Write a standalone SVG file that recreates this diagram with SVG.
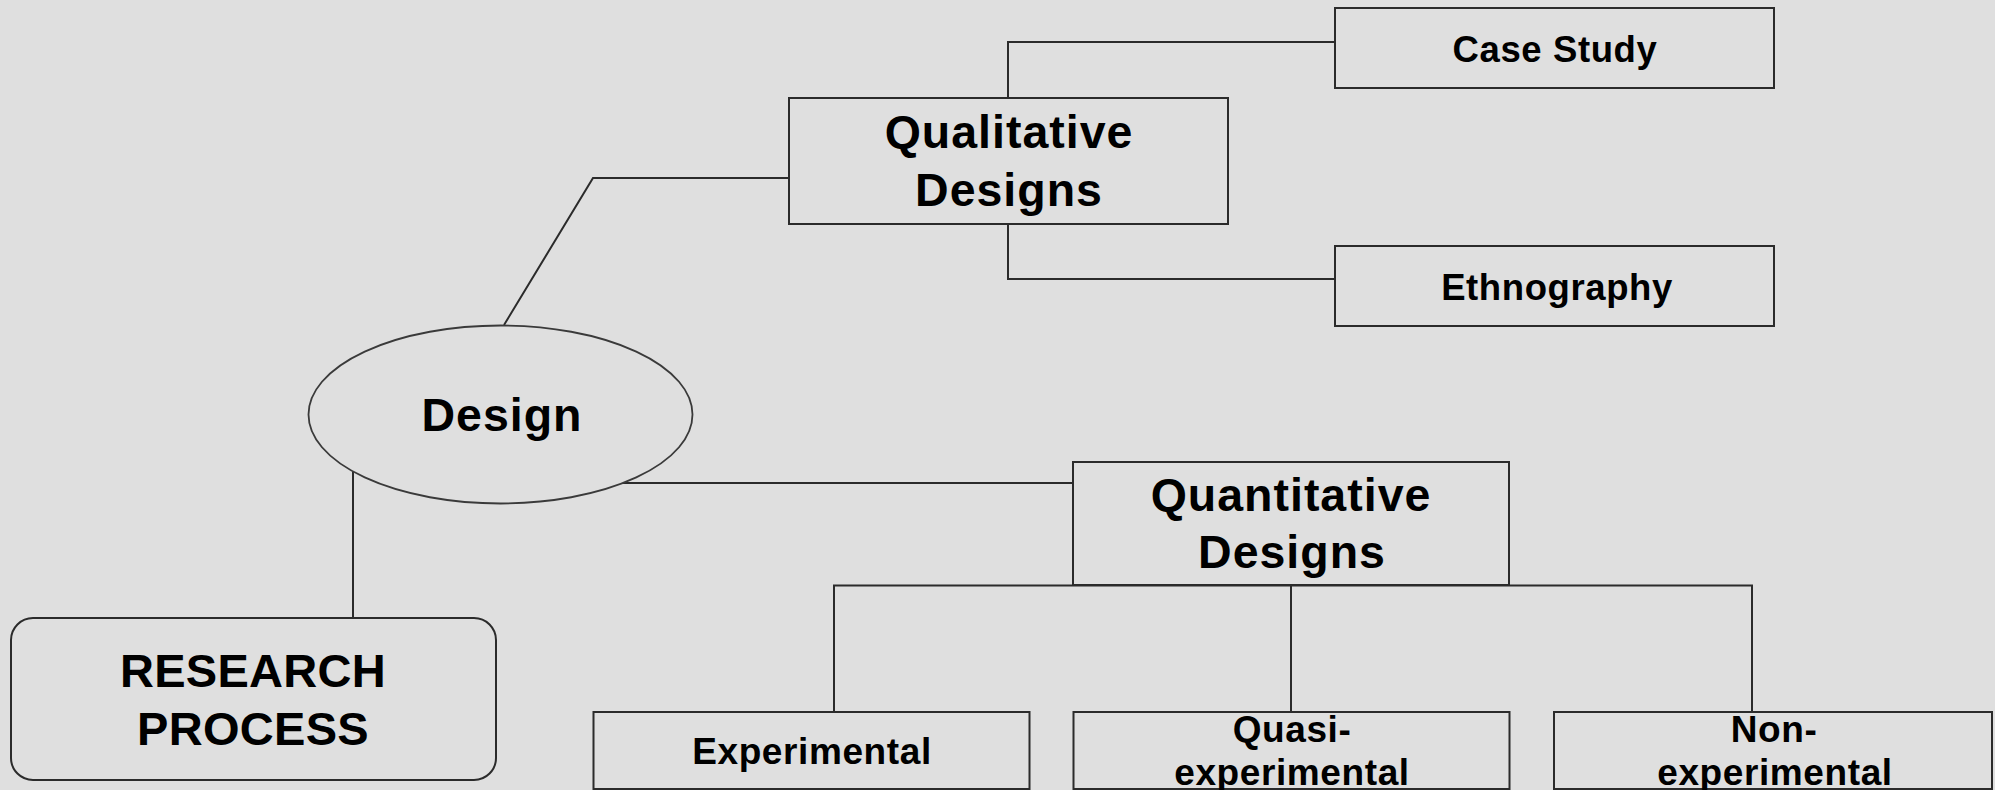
<svg xmlns="http://www.w3.org/2000/svg" width="1995" height="790" viewBox="0 0 1995 790">
  <style>
    .bg { fill: #dfdfdf; }
    .box { fill: #dfdfdf; stroke: #2b2b2b; stroke-width: 2; }
    .oval { fill: #dfdfdf; stroke: #3a3a3a; stroke-width: 1.8; }
    .wire { fill: none; stroke: #2b2b2b; stroke-width: 2; }
    text { font-family: "Liberation Sans", Arial, sans-serif; font-weight: bold; fill: #000; text-anchor: middle; }
    .big { font-size: 46.5px; letter-spacing: 1px; }
    .small { font-size: 37px; letter-spacing: 0.6px; }
  </style>

  <rect class="bg" x="0" y="0" width="1995" height="790"/>

  <!-- connectors -->
  <g id="connectors">
    <polyline class="wire" points="504,325 593,178 789,178"/>
    <polyline class="wire" points="1008,98 1008,42 1335,42"/>
    <polyline class="wire" points="1008,224 1008,279 1335,279"/>
    <line class="wire" x1="623" y1="483" x2="1073" y2="483"/>
    <line class="wire" x1="353" y1="471" x2="353" y2="618"/>
    <line class="wire" x1="1291" y1="585" x2="1291" y2="712"/>
    <polyline class="wire" points="834,712 834,585.5 1752,585.5 1752,712"/>
  </g>

  <g id="research-process">
    <rect class="box" x="11" y="618" width="485" height="162" rx="22" ry="22"/>
    <text class="big" x="253" y="687" style="font-size:47px;letter-spacing:0.3px">RESEARCH</text>
    <text class="big" x="253" y="745" style="font-size:47px;letter-spacing:0.3px">PROCESS</text>
  </g>

  <g id="design">
    <ellipse class="oval" cx="500.5" cy="414.5" rx="192" ry="89"/>
    <text class="big" x="502" y="431">Design</text>
  </g>

  <g id="qualitative">
    <rect class="box" x="789" y="98" width="439" height="126"/>
    <text class="big" x="1009" y="148">Qualitative</text>
    <text class="big" x="1009" y="206">Designs</text>
  </g>

  <g id="case-study">
    <rect class="box" x="1335" y="8" width="439" height="80"/>
    <text class="small" x="1555" y="62" style="font-size:36.5px">Case Study</text>
  </g>

  <g id="ethnography">
    <rect class="box" x="1335" y="246" width="439" height="80"/>
    <text class="small" x="1557" y="300" style="font-size:36.5px">Ethnography</text>
  </g>

  <g id="quantitative">
    <rect class="box" x="1073" y="462" width="436" height="123"/>
    <text class="big" x="1291" y="511">Quantitative</text>
    <text class="big" x="1292" y="568">Designs</text>
  </g>

  <g id="experimental">
    <rect class="box" x="593.5" y="712" width="436" height="77"/>
    <text class="small" x="812" y="764">Experimental</text>
  </g>

  <g id="quasi-experimental">
    <rect class="box" x="1073.5" y="712" width="436" height="77"/>
    <text class="small" x="1292" y="742">Quasi-</text>
    <text class="small" x="1292" y="785">experimental</text>
  </g>

  <g id="non-experimental">
    <rect class="box" x="1554" y="712" width="438" height="77"/>
    <text class="small" x="1774" y="742">Non-</text>
    <text class="small" x="1775" y="785">experimental</text>
  </g>
</svg>
